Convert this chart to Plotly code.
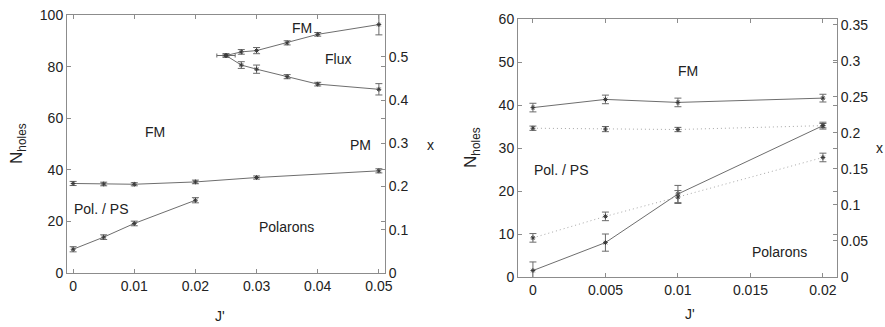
import plotly.graph_objects as go

# ---------------- data: left panel ----------------
J_L = [0, 0.005, 0.01, 0.02, 0.03, 0.05]
N_FM_L = [34.7, 34.5, 34.4, 35.3, 37.0, 39.6]
E_FM_L = [0.8, 0.7, 0.6, 0.7, 0.6, 0.8]

J_POL_L = [0, 0.005, 0.01, 0.02]
N_POL_L = [9.2, 13.9, 19.2, 28.2]
E_POL_L = [1.0, 0.9, 0.9, 1.0]

FLUX_J = [0.025, 0.0275, 0.03, 0.035, 0.04, 0.05]
FLUX_UP = [84.3, 85.7, 86.2, 89.2, 92.5, 96.3]
E_FLUX_UP = [0.6, 0.9, 1.2, 0.8, 0.7, 4.0]
FLUX_LO = [84.3, 80.6, 79.0, 76.1, 73.2, 71.2]
E_FLUX_LO = [0.6, 1.3, 1.6, 0.8, 0.7, 2.2]
FLUX_START_XERR = 0.0015

# ---------------- data: right panel ----------------
J_R = [0, 0.005, 0.01, 0.02]
N_UP_SOLID = [39.4, 41.3, 40.6, 41.6]
E_UP_SOLID = [1.0, 1.0, 1.0, 0.9]
N_UP_DOT = [34.6, 34.4, 34.3, 35.2]
E_UP_DOT = [0.5, 0.6, 0.5, 0.5]
N_LO_SOLID = [1.5, 8.0, 19.3, 35.2]
E_LO_SOLID = [2.0, 2.0, 2.0, 0.8]
N_LO_DOT = [9.1, 14.1, 18.6, 27.8]
E_LO_DOT = [1.0, 1.0, 1.5, 1.0]

# ---------------- ticks ----------------
XT_L = [0, 0.01, 0.02, 0.03, 0.04, 0.05]
XT_L_TXT = ["0", "0.01", "0.02", "0.03", "0.04", "0.05"]
YT_L = [0, 20, 40, 60, 80, 100]
Y2T_L = [0, 0.1, 0.2, 0.3, 0.4, 0.5]
Y2T_L_TXT = ["0", "0.1", "0.2", "0.3", "0.4", "0.5"]
XT_R = [0, 0.005, 0.01, 0.015, 0.02]
XT_R_TXT = ["0", "0.005", "0.01", "0.015", "0.02"]
YT_R = [0, 10, 20, 30, 40, 50, 60]
Y2T_R = [0, 0.05, 0.1, 0.15, 0.2, 0.25, 0.3, 0.35]
Y2T_R_TXT = ["0", "0.05", "0.1", "0.15", "0.2", "0.25", "0.3", "0.35"]

RATIO = 167.6  # N_holes per unit x

FONT = "Liberation Sans, Arial, sans-serif"
LINE_C = "#6e6e6e"
DOT_C = "#a8a8a8"
MARK_C = "#3a3a3a"
ERR_C = "#6a6a6a"
AX_C = "#8c8c8c"

fig = go.Figure()


def add_series(x, y, e, xa, ya, dash="solid", color=LINE_C):
    fig.add_trace(go.Scatter(
        x=x, y=y, xaxis=xa, yaxis=ya, mode="lines+markers",
        line=dict(color=color, width=1, dash=dash),
        marker=dict(symbol="asterisk-open", size=4, color=MARK_C,
                    line=dict(width=1, color=MARK_C)),
        error_y=dict(type="data", array=e, visible=True, color=ERR_C,
                     thickness=1, width=3.5),
        showlegend=False, hoverinfo="skip"))


# left panel
add_series(J_L, N_FM_L, E_FM_L, "x", "y")
add_series(J_POL_L, N_POL_L, E_POL_L, "x", "y")
add_series(FLUX_J, FLUX_UP, E_FLUX_UP, "x", "y")
add_series(FLUX_J, FLUX_LO, E_FLUX_LO, "x", "y")
fig.add_trace(go.Scatter(
    x=[FLUX_J[0]], y=[FLUX_UP[0]], xaxis="x", yaxis="y", mode="markers",
    marker=dict(symbol="asterisk-open", size=4, color=MARK_C,
                line=dict(width=1, color=MARK_C)),
    error_x=dict(type="data", array=[FLUX_START_XERR], visible=True,
                 color=ERR_C, thickness=1, width=2),
    showlegend=False, hoverinfo="skip"))
fig.add_trace(go.Scatter(x=[None], y=[None], xaxis="x", yaxis="y2",
                         showlegend=False, hoverinfo="skip"))

# right panel
add_series(J_R, N_UP_SOLID, E_UP_SOLID, "x2", "y3")
add_series(J_R, N_UP_DOT, E_UP_DOT, "x2", "y3", dash="1px,3px", color=DOT_C)
add_series(J_R, N_LO_SOLID, E_LO_SOLID, "x2", "y3")
add_series(J_R, N_LO_DOT, E_LO_DOT, "x2", "y3", dash="1px,3px", color=DOT_C)
fig.add_trace(go.Scatter(x=[None], y=[None], xaxis="x2", yaxis="y4",
                         showlegend=False, hoverinfo="skip"))

W, H = 885, 327


def px(X):
    return X / W


def py(Y):
    return 1 - Y / H


L_dom_x = [px(67), px(385)]
L_dom_y = [py(273), py(15)]
R_dom_x = [px(518), px(837)]
R_dom_y = [py(277), py(19)]

tickfont = dict(family=FONT, size=14, color="#222222")
common = dict(showline=True, linecolor=AX_C, linewidth=1, ticks="inside",
              ticklen=4, tickcolor=AX_C, showgrid=False, zeroline=False,
              tickfont=tickfont, automargin=False, ticklabeloverflow="allow")

fig.update_layout(
    width=W, height=H, margin=dict(l=0, r=0, t=0, b=0),
    paper_bgcolor="white", plot_bgcolor="white",
    font=dict(family=FONT, size=14, color="#222222"),
    xaxis=dict(domain=L_dom_x, anchor="y", range=[-0.001, 0.051],
               tickvals=XT_L, ticktext=XT_L_TXT, mirror="ticks", **common),
    yaxis=dict(domain=L_dom_y, anchor="x", range=[0, 100],
               tickvals=YT_L, mirror="ticks", **common),
    yaxis2=dict(overlaying="y", side="right", anchor="x",
                range=[0, 100 / RATIO], tickvals=Y2T_L, ticktext=Y2T_L_TXT,
                **common),
    xaxis2=dict(domain=R_dom_x, anchor="y3", range=[-0.00103, 0.02097],
                tickvals=XT_R, ticktext=XT_R_TXT, mirror="ticks", **common),
    yaxis3=dict(domain=R_dom_y, anchor="x2", range=[0, 60],
                tickvals=YT_R, mirror="ticks", **common),
    yaxis4=dict(overlaying="y3", side="right", anchor="x2",
                range=[0, 60 / RATIO], tickvals=Y2T_R, ticktext=Y2T_R_TXT,
                **common),
)

ann = []


def text(x, y, s, size=14, angle=0):
    ann.append(dict(x=px(x), y=py(y), xref="paper", yref="paper",
                    text=s, showarrow=False, textangle=angle,
                    xanchor="center", yanchor="middle",
                    font=dict(family=FONT, size=size, color="#222222")))


# axis titles
text(220, 316, "J'")
text(690, 314, "J'")
text(18, 144, "N<sub>holes</sub>", size=17, angle=-90)
text(472, 148, "N<sub>holes</sub>", size=17, angle=-90)
text(430, 145, "x", size=14)
text(879, 148, "x", size=14)

# region labels
text(155, 132, "FM")
text(302, 28, "FM")
text(338, 59, "Flux")
text(360, 145, "PM")
text(101, 209, "Pol. / PS")
text(286, 227, "Polarons")
text(688, 71, "FM")
text(561, 170, "Pol. / PS")
text(779, 252, "Polarons")

fig.update_layout(annotations=ann)
fig.write_html(
    "out.html",
    config={"displayModeBar": False},
    post_script="document.body.style.margin='0';"
                "document.documentElement.style.overflow='hidden';")
